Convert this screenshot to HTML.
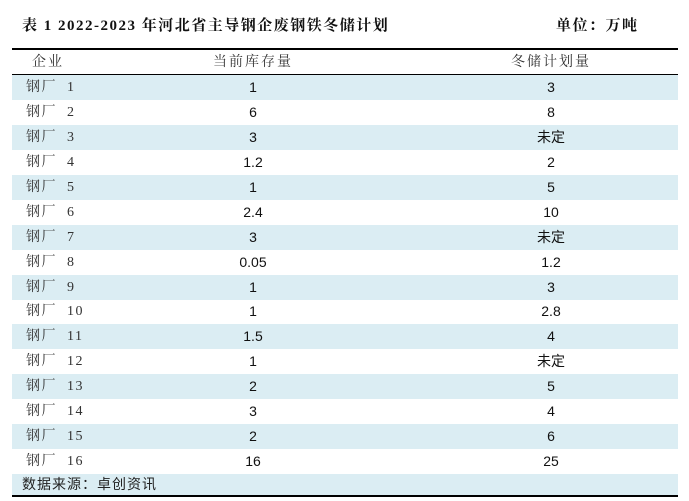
<!DOCTYPE html>
<html><head><meta charset="utf-8">
<style>
body{margin:0;width:689px;height:501px;background:#fff;position:relative;overflow:hidden;font-family:"Liberation Serif","Noto Serif CJK SC",serif;color:#111}
.t{position:absolute;top:14px;font-size:15px;font-weight:bold;letter-spacing:1.5px;white-space:pre}
.line{position:absolute;left:12px;width:666px;background:#000}
.row{position:absolute;left:12px;width:666px;height:25px;font-size:14px}
.row.s{background:#dbedf3}
.c{position:absolute;top:0;line-height:25px;white-space:pre}
.c1{left:14px;letter-spacing:1.5px;color:#333}
.c2{left:193px;width:96px;text-align:center;font-family:"Liberation Sans","Noto Sans CJK SC",sans-serif}
.c3{left:491px;width:96px;text-align:center;font-family:"Liberation Sans","Noto Sans CJK SC",sans-serif}
.h .c{font-family:"Noto Serif CJK SC",serif;letter-spacing:2px;color:#333}
</style></head><body>
<div class="t" style="left:22px">表 1 2022-2023 年河北省主导钢企废钢铁冬储计划</div>
<div class="t" style="left:556px">单位：万吨</div>
<div class="line" style="top:48px;height:1.5px"></div>
<div class="row h" style="top:49px">
<span class="c c1" style="left:20px">企业</span>
<span class="c c2">当前库存量</span>
<span class="c c3">冬储计划量</span>
</div>
<div class="line" style="top:74px;height:1px"></div>
<div id="rows"></div>
<div class="row s" style="top:474px;height:21px">
<span class="c c1" style="line-height:21px;font-family:'Noto Sans CJK SC',sans-serif;left:10px;letter-spacing:1px;color:#222">数据来源：卓创资讯</span>
</div>
<div class="line" style="top:495px;height:1.5px"></div>
<script>
const names=["钢厂 1","钢厂 2","钢厂 3","钢厂 4","钢厂 5","钢厂 6","钢厂 7","钢厂 8","钢厂 9","钢厂 10","钢厂 11","钢厂 12","钢厂 13","钢厂 14","钢厂 15","钢厂 16"];
const inventory=["1","6","3","1.2","1","2.4","3","0.05","1","1","1.5","1","2","3","2","16"];
const plan=["3","8","未定","2","5","10","未定","1.2","3","2.8","4","未定","5","4","6","25"];
const wrap=document.getElementById('rows');
names.forEach((n,i)=>{
const r=document.createElement('div');
r.className='row'+(i%2===0?' s':'');
r.style.top=(75+i*24.94)+'px';


[[n.replace(' ','  '),'c1'],[inventory[i],'c2'],[plan[i],'c3']].forEach(([v,c])=>{
const s=document.createElement('span');
s.className='c '+c;
s.textContent=v;


r.appendChild(s);
});
wrap.appendChild(r);
});
</script>
</body></html>
